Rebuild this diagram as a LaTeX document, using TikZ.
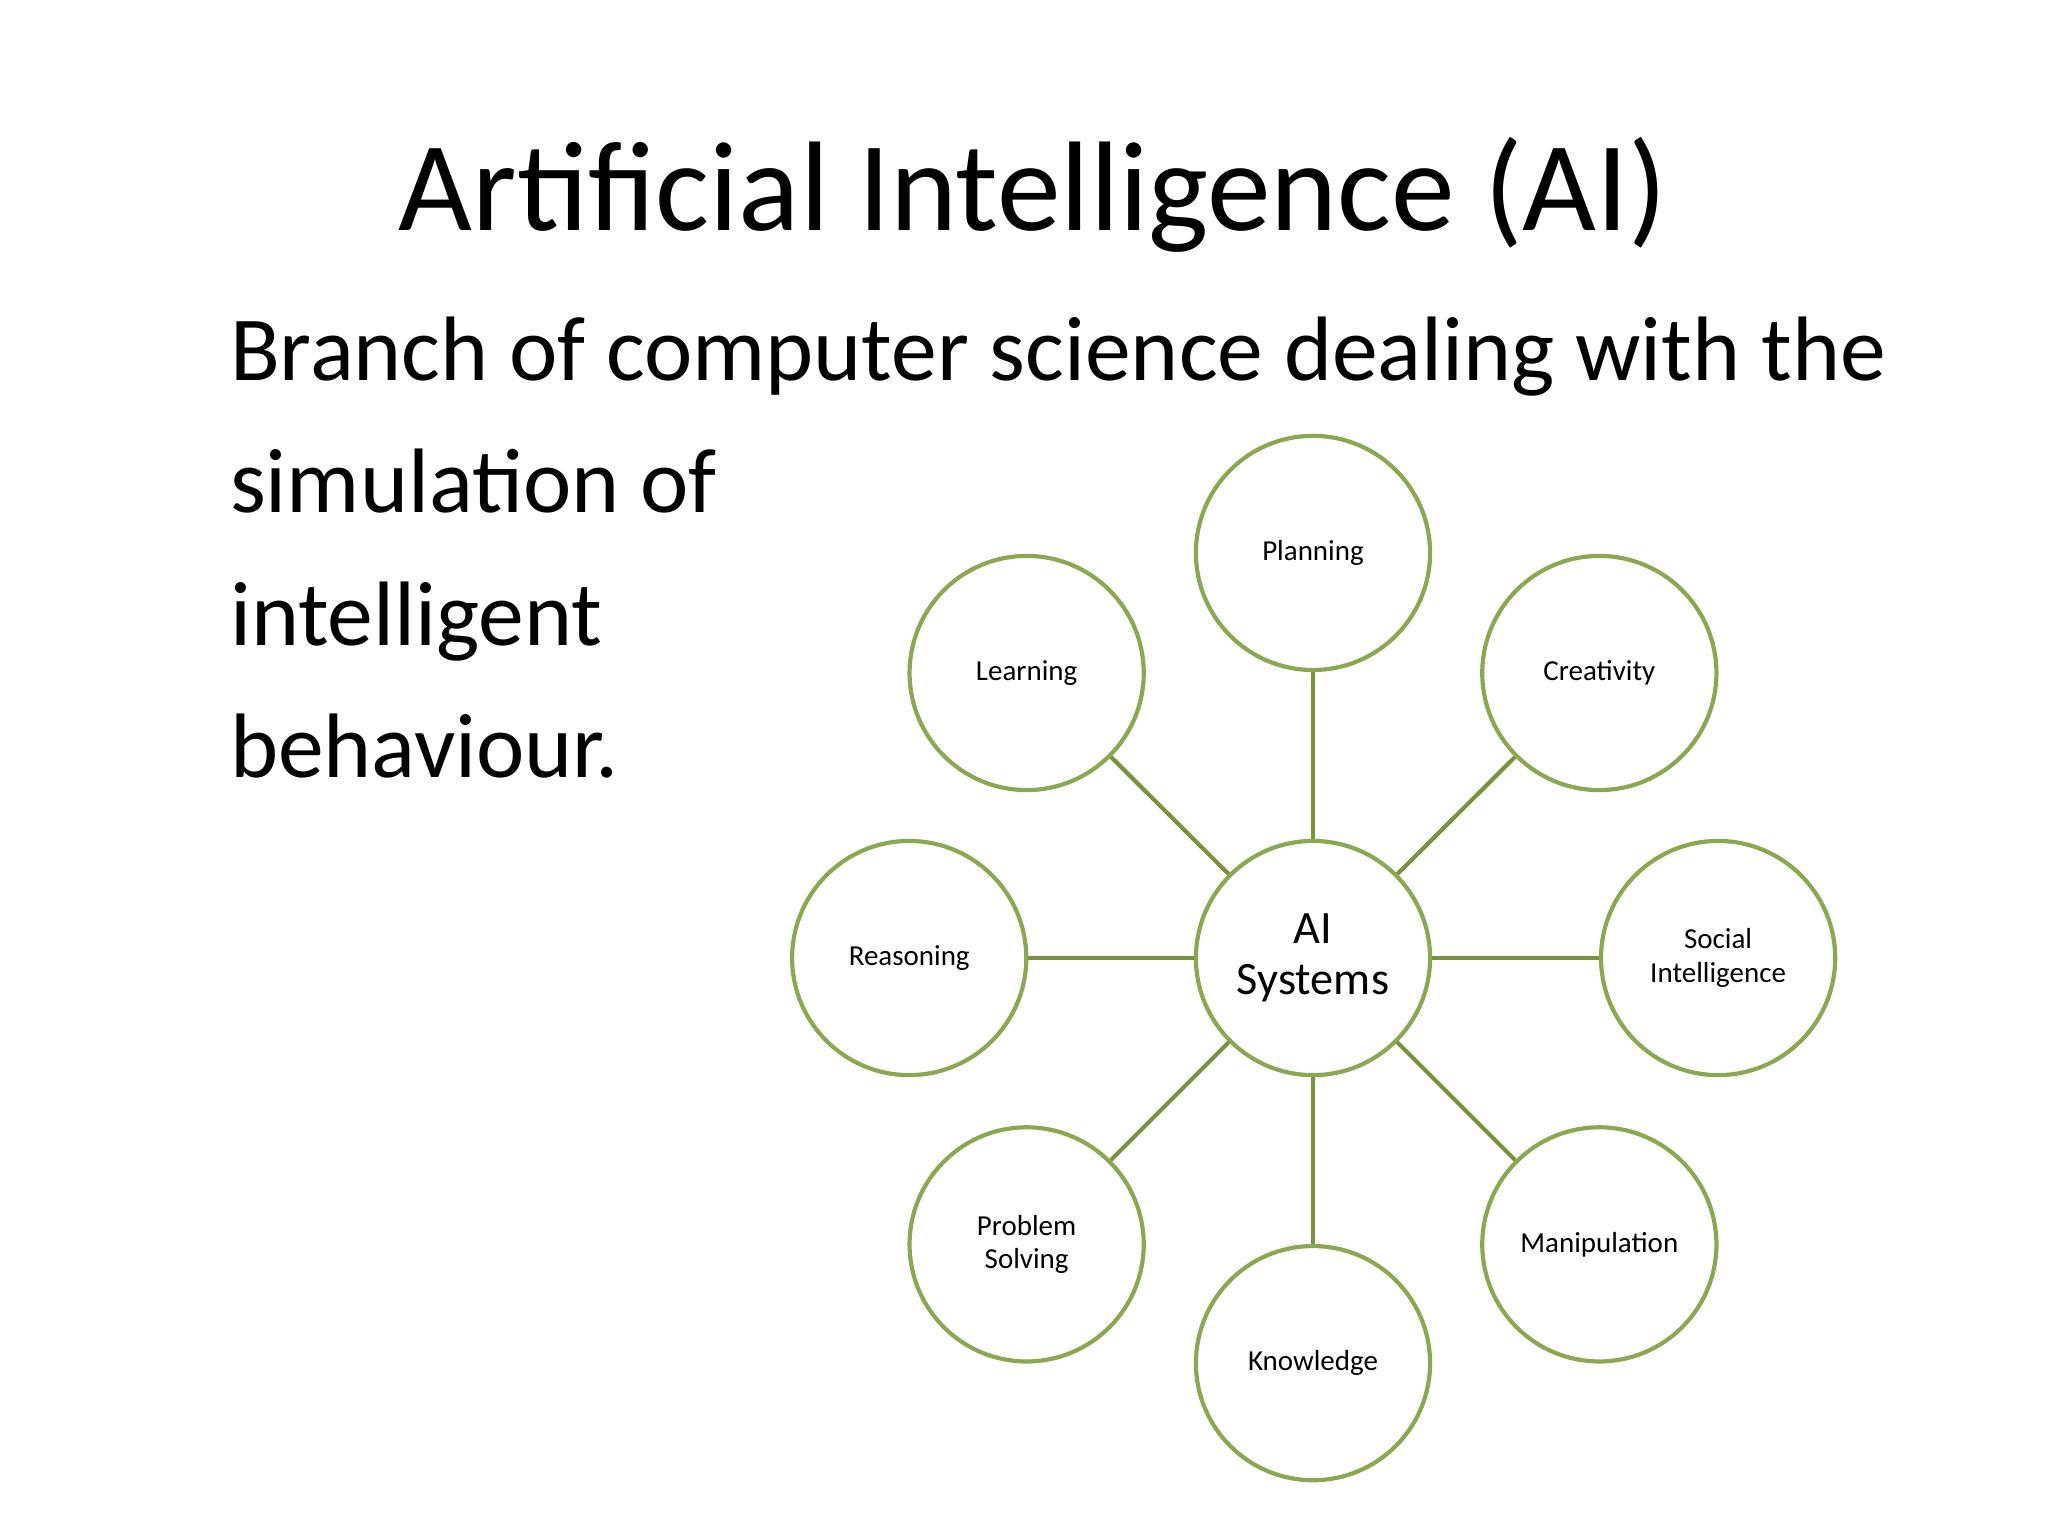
\documentclass[tikz,border=0pt]{standalone}
\usepackage{fontspec}
\setmainfont{Carlito}
\begin{document}
\begin{tikzpicture}[x=0.02cm,y=-0.02cm,
  circ/.style={circle,draw={rgb,255:red,138;green,168;blue,80},line width=1.8pt,minimum size=3.55cm,inner sep=0pt,align=center,font=\fontsize{12.5}{14.5}\selectfont,fill=white},
  conn/.style={draw={rgb,255:red,119;green,147;blue,60},line width=1.8pt}]
\useasboundingbox (0,0) rectangle (1552,1164);
\node[font=\fontsize{55}{60}\selectfont] (title) at (783,148) {Artificial Intelligence (AI)};
\node[font=\fontsize{39.5}{57}\selectfont,anchor=north west,inner sep=0pt,align=left] (body) at (174,240) {Branch of computer science dealing with the\\simulation of\\intelligent\\behaviour.};
\node[circ,font=\fontsize{20}{22}\selectfont] (c) at (995,726) {AI\\Systems};
\node[circ] (n1) at (995,419) {Planning};
\node[circ] (n2) at (778,510) {Learning};
\node[circ] (n3) at (1212,510) {Creativity};
\node[circ] (n4) at (689,726) {Reasoning};
\node[circ] (n5) at (1302,726) {Social\\Intelligence};
\node[circ] (n6) at (778,943) {Problem\\Solving};
\node[circ] (n7) at (1212,943) {Manipulation};
\node[circ] (n8) at (995,1033) {Knowledge};
\foreach \n in {n1,n2,n3,n4,n5,n6,n7,n8} \draw[conn] (c) -- (\n);
\end{tikzpicture}
\end{document}
